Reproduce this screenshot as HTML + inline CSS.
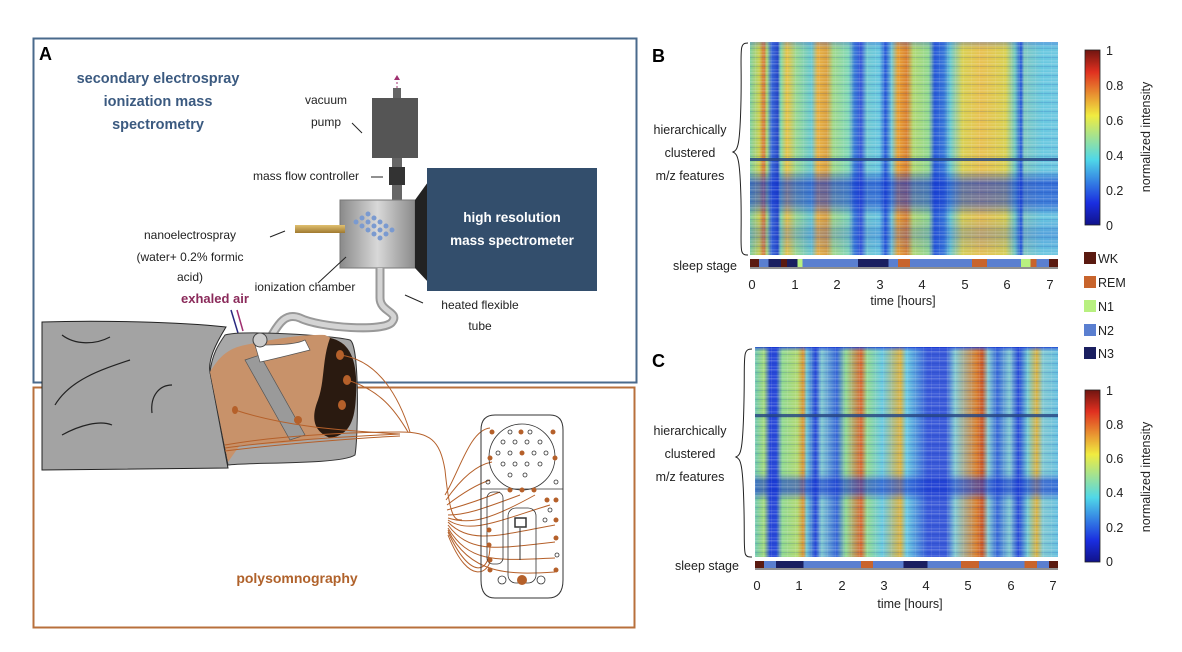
<!DOCTYPE html>
<html><head><meta charset="utf-8"><style>
html,body{margin:0;padding:0;background:#fff;}
svg{display:block;font-family:"Liberation Sans",sans-serif;}
</style></head><body>
<svg width="1182" height="652" viewBox="0 0 1182 652" xmlns="http://www.w3.org/2000/svg">
<defs>
<linearGradient id="jet" x1="0" y1="1" x2="0" y2="0">
<stop offset="0" stop-color="#10128a"/><stop offset="0.125" stop-color="#1a2ee0"/><stop offset="0.375" stop-color="#50d8e8"/><stop offset="0.625" stop-color="#f0ec40"/><stop offset="0.875" stop-color="#e03020"/><stop offset="1" stop-color="#701510"/>
</linearGradient>
<pattern id="rows" width="8" height="9" patternUnits="userSpaceOnUse">
<rect x="0" y="0" width="8" height="1.5" fill="#ffffff" opacity="0.18"/>
<rect x="0" y="3" width="8" height="1" fill="#1030a0" opacity="0.15"/>
<rect x="0" y="6" width="8" height="1.5" fill="#ffffff" opacity="0.12"/>
<rect x="3" y="0" width="1" height="9" fill="#ffffff" opacity="0.08"/>
</pattern>
<linearGradient id="hb" x1="0" y1="0" x2="1" y2="0">
<stop offset="0" stop-color="#7fd0a0"/><stop offset="0.03" stop-color="#c8d050"/><stop offset="0.045" stop-color="#d87030"/><stop offset="0.055" stop-color="#a8d870"/><stop offset="0.07" stop-color="#3868d8"/><stop offset="0.09" stop-color="#2848c8"/><stop offset="0.10" stop-color="#80d8a8"/><stop offset="0.12" stop-color="#e8c040"/><stop offset="0.15" stop-color="#98d890"/><stop offset="0.20" stop-color="#68c8d0"/><stop offset="0.22" stop-color="#e8b040"/><stop offset="0.25" stop-color="#d8a040"/><stop offset="0.27" stop-color="#a0d888"/><stop offset="0.32" stop-color="#80d8b8"/><stop offset="0.34" stop-color="#3878d8"/><stop offset="0.36" stop-color="#3858d8"/><stop offset="0.38" stop-color="#70c8d0"/><stop offset="0.42" stop-color="#68c8e0"/><stop offset="0.44" stop-color="#2858d8"/><stop offset="0.46" stop-color="#70c8d0"/><stop offset="0.48" stop-color="#e8a030"/><stop offset="0.51" stop-color="#d88030"/><stop offset="0.53" stop-color="#b0d870"/><stop offset="0.58" stop-color="#90d890"/><stop offset="0.60" stop-color="#2858d8"/><stop offset="0.63" stop-color="#3878d8"/><stop offset="0.65" stop-color="#68c8d0"/><stop offset="0.69" stop-color="#d8d050"/><stop offset="0.75" stop-color="#e8c050"/><stop offset="0.83" stop-color="#d8d050"/><stop offset="0.86" stop-color="#70c8c0"/><stop offset="0.88" stop-color="#2858d8"/><stop offset="0.89" stop-color="#80c8c0"/><stop offset="0.95" stop-color="#68c8e0"/><stop offset="1" stop-color="#70c8e0"/>
</linearGradient>
<linearGradient id="hbv" x1="0" y1="0" x2="0" y2="1">
<stop offset="0" stop-color="#1030d0" stop-opacity="0.3"/><stop offset="0.03" stop-color="#1030d0" stop-opacity="0"/><stop offset="0.6" stop-color="#1030d0" stop-opacity="0"/><stop offset="0.66" stop-color="#1030d0" stop-opacity="0.6"/><stop offset="0.76" stop-color="#1030d0" stop-opacity="0.5"/><stop offset="0.82" stop-color="#1030d0" stop-opacity="0"/><stop offset="0.9" stop-color="#1030d0" stop-opacity="0.25"/><stop offset="1" stop-color="#1030d0" stop-opacity="0"/>
</linearGradient>
<linearGradient id="hc" x1="0" y1="0" x2="1" y2="0">
<stop offset="0" stop-color="#70c8b0"/><stop offset="0.03" stop-color="#a0d878"/><stop offset="0.05" stop-color="#2848d8"/><stop offset="0.07" stop-color="#2848d8"/><stop offset="0.09" stop-color="#90d890"/><stop offset="0.14" stop-color="#b0d870"/><stop offset="0.16" stop-color="#d89030"/><stop offset="0.17" stop-color="#70c8d0"/><stop offset="0.20" stop-color="#2848d8"/><stop offset="0.22" stop-color="#80c8d0"/><stop offset="0.27" stop-color="#3868d8"/><stop offset="0.30" stop-color="#90d890"/><stop offset="0.35" stop-color="#d86830"/><stop offset="0.37" stop-color="#90d890"/><stop offset="0.42" stop-color="#68c8e0"/><stop offset="0.48" stop-color="#d8b040"/><stop offset="0.50" stop-color="#68c8e0"/><stop offset="0.57" stop-color="#3858d8"/><stop offset="0.63" stop-color="#3858d8"/><stop offset="0.66" stop-color="#80c8d0"/><stop offset="0.73" stop-color="#d88030"/><stop offset="0.75" stop-color="#c85828"/><stop offset="0.77" stop-color="#80c8d0"/><stop offset="0.80" stop-color="#3868d8"/><stop offset="0.84" stop-color="#80c8d0"/><stop offset="0.87" stop-color="#2848d8"/><stop offset="0.90" stop-color="#70c8d0"/><stop offset="0.93" stop-color="#d8b040"/><stop offset="0.95" stop-color="#80c8d0"/><stop offset="1" stop-color="#68c0e0"/>
</linearGradient>
<linearGradient id="hcv" x1="0" y1="0" x2="0" y2="1">
<stop offset="0" stop-color="#1030d0" stop-opacity="0.8"/><stop offset="0.02" stop-color="#1030d0" stop-opacity="0"/><stop offset="0.6" stop-color="#1030d0" stop-opacity="0"/><stop offset="0.64" stop-color="#1030d0" stop-opacity="0.55"/><stop offset="0.69" stop-color="#1030d0" stop-opacity="0.55"/><stop offset="0.73" stop-color="#1030d0" stop-opacity="0"/><stop offset="1" stop-color="#1030d0" stop-opacity="0"/>
</linearGradient>
<linearGradient id="sb" x1="0" y1="0" x2="1" y2="0">
<stop offset="0" stop-color="#5a1a10"/><stop offset="0.03" stop-color="#5a1a10"/><stop offset="0.03" stop-color="#5a7fd0"/><stop offset="0.06" stop-color="#5a7fd0"/><stop offset="0.06" stop-color="#1a1f60"/><stop offset="0.1" stop-color="#1a1f60"/><stop offset="0.1" stop-color="#5a1a10"/><stop offset="0.12" stop-color="#5a1a10"/><stop offset="0.12" stop-color="#1a1f60"/><stop offset="0.155" stop-color="#1a1f60"/><stop offset="0.155" stop-color="#b8f080"/><stop offset="0.17" stop-color="#b8f080"/><stop offset="0.17" stop-color="#5a7fd0"/><stop offset="0.35" stop-color="#5a7fd0"/><stop offset="0.35" stop-color="#1a1f60"/><stop offset="0.45" stop-color="#1a1f60"/><stop offset="0.45" stop-color="#5a7fd0"/><stop offset="0.48" stop-color="#5a7fd0"/><stop offset="0.48" stop-color="#c8642c"/><stop offset="0.52" stop-color="#c8642c"/><stop offset="0.52" stop-color="#5a7fd0"/><stop offset="0.72" stop-color="#5a7fd0"/><stop offset="0.72" stop-color="#c8642c"/><stop offset="0.77" stop-color="#c8642c"/><stop offset="0.77" stop-color="#5a7fd0"/><stop offset="0.88" stop-color="#5a7fd0"/><stop offset="0.88" stop-color="#b8f080"/><stop offset="0.91" stop-color="#b8f080"/><stop offset="0.91" stop-color="#c8642c"/><stop offset="0.93" stop-color="#c8642c"/><stop offset="0.93" stop-color="#5a7fd0"/><stop offset="0.97" stop-color="#5a7fd0"/><stop offset="0.97" stop-color="#5a1a10"/><stop offset="1" stop-color="#5a1a10"/>
</linearGradient>
<linearGradient id="sc" x1="0" y1="0" x2="1" y2="0">
<stop offset="0" stop-color="#5a1a10"/><stop offset="0.03" stop-color="#5a1a10"/><stop offset="0.03" stop-color="#5a7fd0"/><stop offset="0.07" stop-color="#5a7fd0"/><stop offset="0.07" stop-color="#1a1f60"/><stop offset="0.16" stop-color="#1a1f60"/><stop offset="0.16" stop-color="#5a7fd0"/><stop offset="0.35" stop-color="#5a7fd0"/><stop offset="0.35" stop-color="#c8642c"/><stop offset="0.39" stop-color="#c8642c"/><stop offset="0.39" stop-color="#5a7fd0"/><stop offset="0.49" stop-color="#5a7fd0"/><stop offset="0.49" stop-color="#1a1f60"/><stop offset="0.57" stop-color="#1a1f60"/><stop offset="0.57" stop-color="#5a7fd0"/><stop offset="0.68" stop-color="#5a7fd0"/><stop offset="0.68" stop-color="#c8642c"/><stop offset="0.74" stop-color="#c8642c"/><stop offset="0.74" stop-color="#5a7fd0"/><stop offset="0.89" stop-color="#5a7fd0"/><stop offset="0.89" stop-color="#c8642c"/><stop offset="0.93" stop-color="#c8642c"/><stop offset="0.93" stop-color="#5a7fd0"/><stop offset="0.97" stop-color="#5a7fd0"/><stop offset="0.97" stop-color="#5a1a10"/><stop offset="1" stop-color="#5a1a10"/>
</linearGradient>
<linearGradient id="chamb" x1="0" y1="0" x2="1" y2="0">
<stop offset="0" stop-color="#8a8a8a"/><stop offset="0.5" stop-color="#d8d8d8"/><stop offset="1" stop-color="#8a8a8a"/>
</linearGradient>
<linearGradient id="rod" x1="0" y1="0" x2="0" y2="1">
<stop offset="0" stop-color="#e0c070"/><stop offset="1" stop-color="#a07a30"/>
</linearGradient>
</defs>

<!-- Panel A boxes -->
<rect x="33.5" y="38.5" width="603" height="344" fill="none" stroke="#4a6a8c" stroke-width="2"/>
<rect x="33.5" y="387.5" width="601" height="240" fill="none" stroke="#b8703c" stroke-width="2"/>
<text x="39" y="60" font-size="18" font-weight="bold">A</text>
<g fill="#3b5a80" font-weight="bold" font-size="14.5" text-anchor="middle">
<text x="158" y="83">secondary electrospray</text><text x="158" y="106">ionization mass</text><text x="158" y="129">spectrometry</text>
</g>

<rect x="393" y="88" width="8" height="12" fill="#666"/>
<line x1="397" y1="88" x2="397" y2="77" stroke="#a03070" stroke-dasharray="2,2"/>
<path d="M394,80 L397,75 L400,80 Z" fill="#a03070"/>
<rect x="372" y="98" width="46" height="60" fill="#555"/>
<rect x="392" y="158" width="10" height="45" fill="#666"/>
<rect x="389" y="167" width="16" height="18" fill="#333"/>
<rect x="340" y="200" width="75" height="68" fill="url(#chamb)" stroke="#777"/>
<rect x="295" y="225" width="50" height="8" fill="url(#rod)"/>
<g fill="#7a9ad0">
<circle cx="356" cy="222" r="2.5"/><circle cx="362" cy="218" r="2.5"/><circle cx="368" cy="214" r="2.5"/><circle cx="362" cy="226" r="2.5"/><circle cx="368" cy="222" r="2.5"/><circle cx="374" cy="218" r="2.5"/><circle cx="368" cy="230" r="2.5"/><circle cx="374" cy="226" r="2.5"/><circle cx="380" cy="222" r="2.5"/><circle cx="374" cy="234" r="2.5"/><circle cx="380" cy="230" r="2.5"/><circle cx="386" cy="226" r="2.5"/><circle cx="380" cy="238" r="2.5"/><circle cx="386" cy="234" r="2.5"/><circle cx="392" cy="230" r="2.5"/>
</g>
<path d="M415,200 L428,182 L428,282 L415,268 Z" fill="#222"/>
<rect x="427" y="168" width="170" height="123" fill="#334e6c"/>
<g fill="#fff" font-weight="bold" font-size="13.5" text-anchor="middle"><text x="512" y="222">high resolution</text><text x="512" y="245">mass spectrometer</text></g>
<path d="M380,268 L380,298 C380,312 400,312 392,322 C385,332 320,328 300,318 C285,312 278,325 272,335" fill="none" stroke="#999" stroke-width="9"/>
<path d="M380,268 L380,298 C380,312 400,312 392,322 C385,332 320,328 300,318 C285,312 278,325 272,335" fill="none" stroke="#d4d4d4" stroke-width="5"/>

<g font-size="12" fill="#222" text-anchor="middle">
<text x="326" y="104">vacuum</text><text x="326" y="126">pump</text>
<text x="306" y="180">mass flow controller</text>
<text x="190" y="239">nanoelectrospray</text><text x="190" y="261">(water+ 0.2% formic</text><text x="190" y="281">acid)</text>
<text x="305" y="291">ionization chamber</text>
<text x="480" y="309">heated flexible</text><text x="480" y="330">tube</text>
</g>
<g stroke="#222" fill="none" stroke-width="1">
<line x1="352" y1="123" x2="362" y2="133"/><line x1="371" y1="177" x2="383" y2="177"/>
<line x1="270" y1="237" x2="285" y2="231"/><line x1="318" y1="283" x2="346" y2="257"/>
<line x1="423" y1="303" x2="405" y2="295"/>
</g>
<text x="215" y="303" font-size="13" font-weight="bold" fill="#8a2a5a" text-anchor="middle">exhaled air</text>
<line x1="231" y1="310" x2="238" y2="333" stroke="#2a2a80" stroke-width="1.5"/><line x1="237" y1="310" x2="243" y2="331" stroke="#a03070" stroke-width="1.5"/>

<path d="M42,322 C100,320 180,322 226,327 C215,345 208,360 210,372 L228,468 L42,470 Z" fill="#a3a3a3" stroke="#222" stroke-width="1"/>
<g fill="none" stroke="#222" stroke-width="1.2">
<path d="M62,335 C75,345 95,345 110,337"/><path d="M55,405 C70,380 100,370 130,360"/><path d="M62,435 C80,425 100,420 112,425"/><path d="M152,413 C150,395 160,385 172,385"/>
</g>
<path d="M225,335 C240,330 330,335 350,340 C360,345 358,440 355,455 C340,465 250,462 228,465 L210,372 C212,355 218,345 225,335 Z" fill="#a8a8a8" stroke="#333"/>
<path d="M210,372 C220,355 230,348 245,345 C270,340 300,334 325,335 L345,345 L348,430 C320,440 280,445 240,445 L228,462 Z" fill="#c8926a"/>
<path d="M330,338 C350,342 358,360 356,395 C355,420 350,435 330,438 C315,432 310,420 318,400 C325,380 322,360 330,338 Z" fill="#2a1a10"/>
<path d="M245,360 L290,440 L305,435 L260,355 Z" fill="#9a9a9a" stroke="#555" stroke-width="0.7"/>
<path d="M255,345 C275,345 295,345 305,340 L310,350 C290,355 270,360 260,362 Z" fill="#fff" stroke="#555" stroke-width="0.7"/>
<circle cx="260" cy="340" r="7" fill="#ccc" stroke="#444"/>
<g fill="#b5602a"><ellipse cx="340" cy="355" rx="4" ry="5"/><ellipse cx="347" cy="380" rx="4" ry="5"/><ellipse cx="342" cy="405" rx="4" ry="5"/><ellipse cx="235" cy="410" rx="3" ry="4"/><ellipse cx="298" cy="420" rx="4" ry="4"/></g>
<g fill="none" stroke="#b5602a" stroke-width="1">
<path d="M225,445 C280,435 360,432 400,432 C430,432 440,440 445,470 C450,520 455,520 462,520"/>
<path d="M225,448 C280,440 360,436 400,434"/><path d="M225,451 C280,444 360,438 400,436"/>
<path d="M340,355 C380,360 400,400 410,432"/><path d="M347,380 C380,390 395,410 408,432"/>
<path d="M235,410 C280,425 330,430 400,434"/>
<path d="M445,495 C460,470 470,430 490,428"/><path d="M446,500 C460,480 475,465 492,462"/><path d="M447,505 C460,495 475,485 490,480"/><path d="M447,510 C465,505 480,500 500,492"/><path d="M448,515 C465,515 480,510 520,495"/><path d="M448,518 C470,525 490,520 535,495"/><path d="M448,520 C470,535 500,520 550,505"/><path d="M448,522 C470,545 500,535 555,525"/><path d="M448,525 C470,555 500,548 555,542"/><path d="M448,528 C470,565 500,560 555,558"/><path d="M448,530 C470,575 510,575 555,572"/><path d="M448,532 C470,580 490,575 490,545"/><path d="M448,535 C470,590 490,570 490,560"/>
</g>

<path d="M495,415 L550,415 Q563,415 563,430 L563,580 Q563,598 548,598 L495,598 Q481,598 481,580 L481,430 Q481,415 495,415 Z" fill="none" stroke="#333" stroke-width="1"/>
<circle cx="522" cy="457" r="33" fill="none" stroke="#333" stroke-width="0.8"/>
<line x1="481" y1="489" x2="563" y2="489" stroke="#333" stroke-width="0.8"/>
<rect x="487" y="492" width="16" height="72" rx="6" fill="none" stroke="#333" stroke-width="0.8"/>
<rect x="508" y="508" width="28" height="75" rx="8" fill="none" stroke="#333" stroke-width="0.8"/>
<rect x="515" y="518" width="11" height="9" fill="none" stroke="#333" stroke-width="1.5"/>
<line x1="520" y1="528" x2="520" y2="560" stroke="#333"/>
<g fill="none" stroke="#333" stroke-width="0.8">
<circle cx="510" cy="432" r="2"/><circle cx="530" cy="432" r="2"/><circle cx="503" cy="442" r="2"/><circle cx="515" cy="442" r="2"/><circle cx="527" cy="442" r="2"/><circle cx="540" cy="442" r="2"/><circle cx="498" cy="453" r="2"/><circle cx="510" cy="453" r="2"/><circle cx="534" cy="453" r="2"/><circle cx="546" cy="453" r="2"/><circle cx="503" cy="464" r="2"/><circle cx="515" cy="464" r="2"/><circle cx="527" cy="464" r="2"/><circle cx="540" cy="464" r="2"/><circle cx="510" cy="475" r="2"/><circle cx="525" cy="475" r="2"/><circle cx="488" cy="482" r="2"/><circle cx="556" cy="482" r="2"/><circle cx="545" cy="520" r="2"/><circle cx="550" cy="510" r="2"/><circle cx="557" cy="555" r="2"/><circle cx="502" cy="580" r="4"/><circle cx="541" cy="580" r="4"/>
</g>
<g fill="#b5602a">
<circle cx="492" cy="432" r="2.5"/><circle cx="521" cy="432" r="2.5"/><circle cx="553" cy="432" r="2.5"/><circle cx="522" cy="453" r="2.5"/><circle cx="490" cy="458" r="2.5"/><circle cx="555" cy="458" r="2.5"/><circle cx="510" cy="490" r="2.5"/><circle cx="522" cy="490" r="2.5"/><circle cx="534" cy="490" r="2.5"/><circle cx="547" cy="500" r="2.5"/><circle cx="556" cy="500" r="2.5"/><circle cx="556" cy="520" r="2.5"/><circle cx="556" cy="538" r="2.5"/><circle cx="489" cy="530" r="2.5"/><circle cx="489" cy="545" r="2.5"/><circle cx="490" cy="560" r="2.5"/><circle cx="490" cy="570" r="2.5"/><circle cx="556" cy="570" r="2.5"/><circle cx="522" cy="580" r="5"/>
</g>
<text x="297" y="583" font-size="14" font-weight="bold" fill="#b0622b" text-anchor="middle">polysomnography</text>

<!-- Panel B -->
<text x="652" y="62" font-size="18" font-weight="bold">B</text>
<rect x="750" y="42" width="308" height="213" fill="url(#hb)"/>
<rect x="750" y="42" width="308" height="213" fill="url(#hbv)"/>
<rect x="750" y="42" width="308" height="213" fill="url(#rows)"/>
<rect x="750" y="158" width="308" height="3" fill="#204080" opacity="0.8"/>
<rect x="750" y="259" width="308" height="8" fill="url(#sb)"/>
<path d="M748,43 C738,43 742,50 741,100 C740,145 738,150 733,152 C738,154 740,160 741,200 C742,250 738,255 748,255" fill="none" stroke="#222" stroke-width="1"/>
<g font-size="12.5" fill="#222" text-anchor="middle">
<text x="690" y="134">hierarchically</text><text x="690" y="157">clustered</text><text x="690" y="180">m/z features</text>
<text x="705" y="270">sleep stage</text>
<text x="903" y="305">time [hours]</text>
</g>
<line x1="750" y1="268" x2="1058" y2="268" stroke="#222"/>
<g font-size="13" fill="#222" text-anchor="middle">
<text x="752" y="289">0</text><text x="795" y="289">1</text><text x="837" y="289">2</text><text x="880" y="289">3</text><text x="922" y="289">4</text><text x="965" y="289">5</text><text x="1007" y="289">6</text><text x="1050" y="289">7</text>
</g>
<rect x="1085" y="50" width="15" height="175" fill="url(#jet)" stroke="#222" stroke-width="0.8"/>
<g font-size="12.5" fill="#222">
<text x="1106" y="55">1</text><text x="1106" y="90">0.8</text><text x="1106" y="125">0.6</text><text x="1106" y="160">0.4</text><text x="1106" y="195">0.2</text><text x="1106" y="230">0</text>
</g>
<text transform="translate(1150,137) rotate(-90)" font-size="12.5" fill="#222" text-anchor="middle">normalized intensity</text>
<rect x="1084" y="252" width="12" height="12" fill="#5a1a10"/><rect x="1084" y="276" width="12" height="12" fill="#c8642c"/><rect x="1084" y="300" width="12" height="12" fill="#b8f080"/><rect x="1084" y="324" width="12" height="12" fill="#5a7fd0"/><rect x="1084" y="347" width="12" height="12" fill="#1a1f60"/>
<g font-size="12.5" fill="#222"><text x="1098" y="263">WK</text><text x="1098" y="287">REM</text><text x="1098" y="311">N1</text><text x="1098" y="335">N2</text><text x="1098" y="358">N3</text></g>

<!-- Panel C -->
<text x="652" y="367" font-size="18" font-weight="bold">C</text>
<rect x="755" y="347" width="303" height="210" fill="url(#hc)"/>
<rect x="755" y="347" width="303" height="210" fill="url(#hcv)"/>
<rect x="755" y="347" width="303" height="210" fill="url(#rows)"/>
<rect x="755" y="414" width="303" height="3" fill="#204080" opacity="0.8"/>
<rect x="755" y="561" width="303" height="7" fill="url(#sc)"/>
<path d="M752,349 C742,349 745,356 744,400 C743,450 741,455 736,457 C741,459 743,465 744,510 C745,555 742,557 752,557" fill="none" stroke="#222" stroke-width="1"/>
<g font-size="12.5" fill="#222" text-anchor="middle">
<text x="690" y="435">hierarchically</text><text x="690" y="458">clustered</text><text x="690" y="481">m/z features</text>
<text x="707" y="570">sleep stage</text>
<text x="910" y="608">time [hours]</text>
</g>
<line x1="755" y1="569" x2="1058" y2="569" stroke="#222"/>
<g font-size="13" fill="#222" text-anchor="middle">
<text x="757" y="590">0</text><text x="799" y="590">1</text><text x="842" y="590">2</text><text x="884" y="590">3</text><text x="926" y="590">4</text><text x="968" y="590">5</text><text x="1011" y="590">6</text><text x="1053" y="590">7</text>
</g>
<rect x="1085" y="390" width="15" height="172" fill="url(#jet)" stroke="#222" stroke-width="0.8"/>
<g font-size="12.5" fill="#222">
<text x="1106" y="395">1</text><text x="1106" y="429">0.8</text><text x="1106" y="463">0.6</text><text x="1106" y="497">0.4</text><text x="1106" y="532">0.2</text><text x="1106" y="566">0</text>
</g>
<text transform="translate(1150,477) rotate(-90)" font-size="12.5" fill="#222" text-anchor="middle">normalized intensity</text>
</svg>
</body></html>
